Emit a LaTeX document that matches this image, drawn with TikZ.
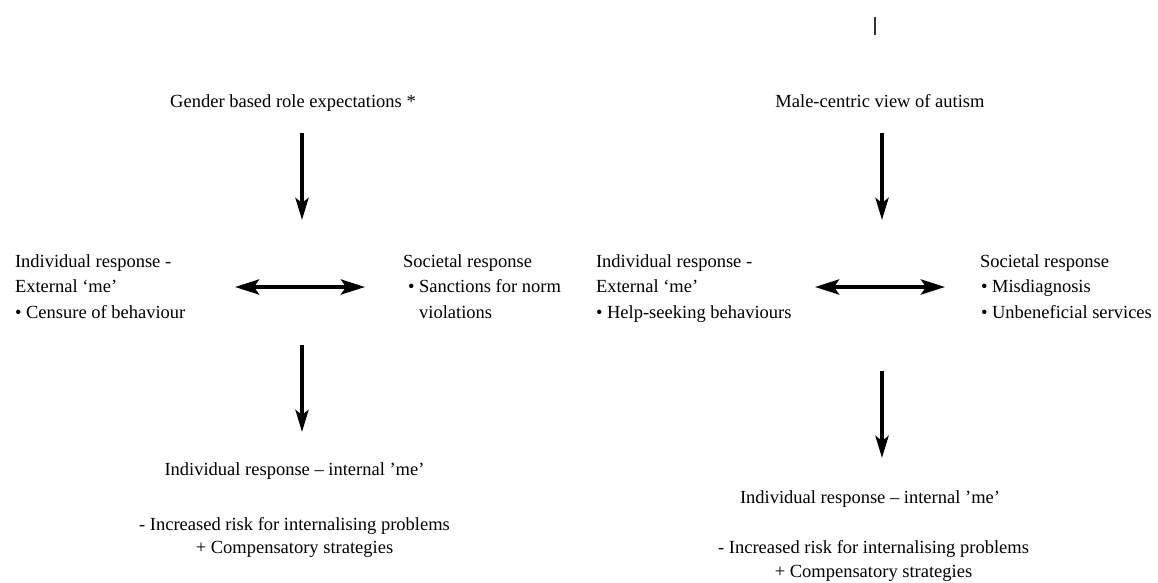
\documentclass[tikz,border=0pt]{standalone}
\usepackage{fontspec}
\setmainfont{Liberation Serif}
\usetikzlibrary{arrows.meta}
\begin{document}
\begin{tikzpicture}[x=1pt,y=-1pt,
  lbl/.style={font=\fontsize{18.5}{25.5}\selectfont, inner sep=0pt, outer sep=0pt},
  lowlbl/.style={font=\fontsize{18.5}{23}\selectfont, inner sep=0pt, outer sep=0pt},
  lowlblr/.style={font=\fontsize{18.5}{24.5}\selectfont, inner sep=0pt, outer sep=0pt},
  flowarrow/.style={line width=4pt, draw=black, -{Stealth[length=22pt,width=13pt,inset=5pt]}},
  botharrow/.style={line width=4pt, draw=black, {Stealth[length=24pt,width=15pt,inset=5pt]}-{Stealth[length=24pt,width=15pt,inset=5pt]}},
  marker/.style={line width=1.5pt, draw=black!80}
]
\useasboundingbox (0,0) rectangle (1158,583);

% small mark at the top
\coordinate (mk1) at (875,17);
\coordinate (mk2) at (875,35);
\draw[marker] (mk1) -- (mk2);

% ---------- left diagram ----------
\node[lbl, anchor=base] (gender) at (293,107) {Gender based role expectations *};

\node[lbl, anchor=base west] (indL) at (15,267)
  {\begin{tabular}[t]{@{}l@{}}Individual response -\\ External ‘me’\\ • Censure of behaviour\end{tabular}};

\node[lbl, anchor=base west] (socL) at (403,267)
  {\begin{tabular}[t]{@{}l@{}}Societal response\\ \hspace{5pt}• Sanctions for norm\\ \hspace{5pt}\phantom{• }violations\end{tabular}};

\node[lowlbl, anchor=base] (intL) at (294.5,475) {Individual response – internal ’me’};
\node[lowlbl, anchor=base] (riskL) at (294.5,530)
  {\begin{tabular}[t]{@{}c@{}}- Increased risk for internalising problems\\ + Compensatory strategies\end{tabular}};

\coordinate (aL1s) at (302,133);
\coordinate (aL1e) at (302,220);
\draw[flowarrow] (aL1s) -- (aL1e);

\coordinate (hL1) at (235,287);
\coordinate (hL2) at (365,287);
\draw[botharrow] (hL1) -- (hL2);

\coordinate (aL2s) at (302,345);
\coordinate (aL2e) at (302,432);
\draw[flowarrow] (aL2s) -- (aL2e);

% ---------- right diagram ----------
\node[lbl, anchor=base] (male) at (880,107) {Male-centric view of autism};

\node[lbl, anchor=base west] (indR) at (596,267)
  {\begin{tabular}[t]{@{}l@{}}Individual response -\\ External ‘me’\\ • Help-seeking behaviours\end{tabular}};

\node[lbl, anchor=base west] (socR) at (980,267)
  {\begin{tabular}[t]{@{}l@{}}Societal response\\ \hspace{1pt}• Misdiagnosis\\ \hspace{1pt}• Unbeneficial services\end{tabular}};

\node[lowlblr, anchor=base] (intR) at (870,503) {Individual response – internal ’me’};
\node[lowlblr, anchor=base] (riskR) at (873.5,553)
  {\begin{tabular}[t]{@{}c@{}}- Increased risk for internalising problems\\ + Compensatory strategies\end{tabular}};

\coordinate (aR1s) at (882,133);
\coordinate (aR1e) at (882,220);
\draw[flowarrow] (aR1s) -- (aR1e);

\coordinate (hR1) at (815,287);
\coordinate (hR2) at (945,287);
\draw[botharrow] (hR1) -- (hR2);

\coordinate (aR2s) at (882,371);
\coordinate (aR2e) at (882,458);
\draw[flowarrow] (aR2s) -- (aR2e);

\end{tikzpicture}
\end{document}
